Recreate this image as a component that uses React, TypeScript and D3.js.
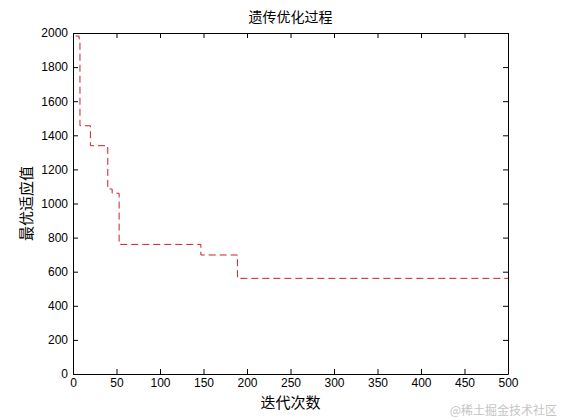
import React, { useEffect, useRef } from 'react';
import * as d3 from 'd3';

// 每次迭代的最优适应值（阶梯变化点）
const iterations = [3, 7, 8, 20, 38, 40, 45, 53, 147, 189, 500];
const bestFitness = [1982, 1965, 1456, 1339, 1328, 1085, 1060, 760, 698, 561, 561];

const xTicks = [0, 50, 100, 150, 200, 250, 300, 350, 400, 450, 500];
const yTicks = [0, 200, 400, 600, 800, 1000, 1200, 1400, 1600, 1800, 2000];

const chartTitle = '遗传优化过程';
const xLabel = '迭代次数';
const yLabel = '最优适应值';
const watermark = '@稀土掘金技术社区';

const App: React.FC = () => {
  const svgRef = useRef<SVGSVGElement>(null);

  useEffect(() => {
    if (!svgRef.current) {return;}
    const svg = d3.select(svgRef.current);
    svg.selectAll('*').remove();

    const width = 561;
    const height = 420;
    const margin = { top: 33, right: 53, bottom: 46, left: 73 };
    const innerW = width - margin.left - margin.right;
    const innerH = height - margin.top - margin.bottom;
    const tickLen = 5;
    const numFont = '"Liberation Sans", Arial, sans-serif';
    const cjkFont = '"Noto Sans CJK SC", sans-serif';

    svg.append('rect').attr('width', width).attr('height', height).attr('fill', '#fff');

    const x = d3.scaleLinear().domain([0, 500]).range([0, innerW]);
    const y = d3.scaleLinear().domain([0, 2000]).range([innerH, 0]);

    const g = svg.append('g').attr('transform', `translate(${margin.left},${margin.top})`);

    // 数据曲线
    const points = iterations.map((it, i) => [it, bestFitness[i]] as [number, number]);
    const line = d3.line<[number, number]>()
      .x(d => x(d[0]))
      .y(d => y(d[1]))
      .curve(d3.curveStepAfter);

    g.append('path')
      .datum(points)
      .attr('d', line)
      .attr('fill', 'none')
      .attr('stroke', '#c8202a')
      .attr('stroke-width', 1)
      .attr('stroke-dasharray', '7,4');

    // 坐标轴（刻度朝内，四边都有）
    const fmt = d3.format('d');
    const bottom = d3.axisBottom(x).tickValues(xTicks).tickFormat(d => fmt(d as number))
      .tickSizeInner(-tickLen).tickSizeOuter(0).tickPadding(4);
    const top = d3.axisTop(x).tickValues(xTicks).tickSizeInner(-tickLen).tickSizeOuter(0).tickFormat(() => '');
    const left = d3.axisLeft(y).tickValues(yTicks).tickFormat(d => fmt(d as number))
      .tickSizeInner(-tickLen).tickSizeOuter(0).tickPadding(5);
    const right = d3.axisRight(y).tickValues(yTicks).tickSizeInner(-tickLen).tickSizeOuter(0).tickFormat(() => '');

    const styleAxis = (sel: d3.Selection<SVGGElement, unknown, null, undefined>) => {
      sel.selectAll('path').attr('stroke', '#000').attr('stroke-width', 1);
      sel.selectAll('line').attr('stroke', '#000').attr('stroke-width', 1);
      sel.selectAll('text')
        .attr('fill', '#000')
        .style('font-family', numFont)
        .style('font-size', '12px');
    };

    g.append('g').attr('transform', `translate(0,${innerH})`).call(bottom).call(styleAxis);
    g.append('g').call(top).call(styleAxis);
    g.append('g').call(left).call(styleAxis);
    g.append('g').attr('transform', `translate(${innerW},0)`).call(right).call(styleAxis);

    // 标题和轴标签
    svg.append('text')
      .attr('x', margin.left + innerW / 2)
      .attr('y', 22)
      .attr('text-anchor', 'middle')
      .style('font-family', cjkFont)
      .style('font-size', '14px')
      .attr('fill', '#000')
      .text(chartTitle);

    svg.append('text')
      .attr('x', margin.left + innerW / 2)
      .attr('y', 408)
      .attr('text-anchor', 'middle')
      .style('font-family', cjkFont)
      .style('font-size', '15px')
      .attr('fill', '#000')
      .text(xLabel);

    svg.append('text')
      .attr('transform', `translate(32,${margin.top + innerH / 2}) rotate(-90)`)
      .attr('text-anchor', 'middle')
      .style('font-family', cjkFont)
      .style('font-size', '15px')
      .attr('fill', '#000')
      .text(yLabel);

    svg.append('text')
      .attr('x', 557)
      .attr('y', 415)
      .attr('text-anchor', 'end')
      .style('font-family', cjkFont)
      .style('font-size', '12px')
      .attr('fill', '#c4c4c4')
      .text(watermark);
  }, []);

  return (
    <svg
      ref={svgRef}
      width={561}
      height={420}
      style={{ position: 'absolute', left: 0, top: 0, display: 'block' }}
    />
  );
};

export default App;
